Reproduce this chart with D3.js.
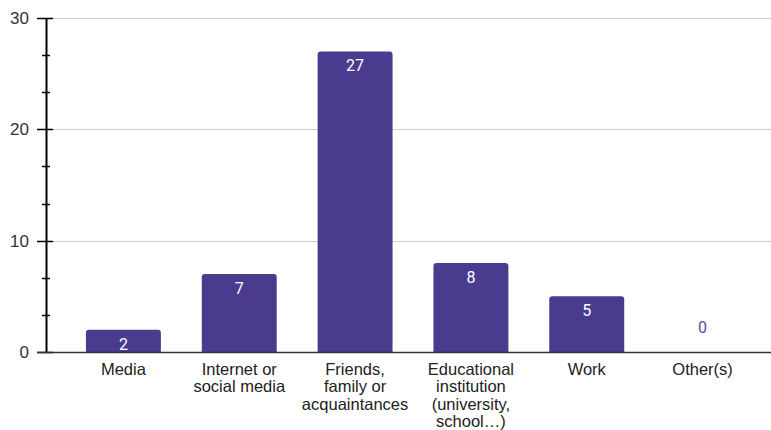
<!DOCTYPE html>
<html>
<head>
<meta charset="utf-8">
<script src="https://cdn.jsdelivr.net/npm/d3@7"></script>
<style>
  html, body { margin: 0; padding: 0; background: #fff; }
  svg { display: block; font-family: "Liberation Sans", Arial, sans-serif; }
</style>
</head>
<body>
<svg id="chart" width="771" height="430"></svg>
<script>
// Where respondents heard about it
const categories = [
  ["Media"],
  ["Internet or", "social media"],
  ["Friends,", "family or", "acquaintances"],
  ["Educational", "institution", "(university,", "school…)"],
  ["Work"],
  ["Other(s)"]
];
const counts = [2, 7, 27, 8, 5, 0];
const majorTicks = [0, 10, 20, 30];
const minorTicks = [10 / 3, 20 / 3, 40 / 3, 50 / 3, 70 / 3, 80 / 3];

const barColor = "#4a3b8f";
const svg = d3.select("#chart");

const axisX = 46;
const y = d3.scaleLinear().domain([0, 30]).range([352, 18]);
const x = d3.scaleBand()
  .domain(d3.range(counts.length))
  .range([65.5, 760.5])
  .paddingInner(0.353)
  .paddingOuter(0.1765);

// Gridlines
svg.append("g").selectAll("line")
  .data(majorTicks.filter(d => d > 0))
  .join("line")
  .attr("x1", axisX + 7).attr("x2", 771)
  .attr("y1", d => Math.round(y(d)) + 0.5).attr("y2", d => Math.round(y(d)) + 0.5)
  .attr("stroke", "#cccccc").attr("stroke-width", 1);

// Bars with rounded tops
const r = 3;
svg.append("g").selectAll("path")
  .data(counts.map((v, i) => ({ v, i })).filter(d => d.v > 0))
  .join("path")
  .attr("fill", barColor)
  .attr("d", d => {
    const x0 = x(d.i), w = x.bandwidth(), y0 = y(d.v), yb = y(0);
    return `M${x0},${yb}V${y0 + r}Q${x0},${y0} ${x0 + r},${y0}H${x0 + w - r}Q${x0 + w},${y0} ${x0 + w},${y0 + r}V${yb}Z`;
  });

// Value labels
svg.append("g").selectAll("text")
  .data(counts.map((v, i) => ({ v, i })))
  .join("text")
  .attr("x", d => x(d.i) + x.bandwidth() / 2)
  .attr("y", d => d.v > 0 ? y(d.v) + 20 : y(0) - 19)
  .attr("text-anchor", "middle")
  .attr("font-size", 16)
  .attr("font-family", "Roboto, sans-serif")
  .attr("fill", d => d.v > 0 ? "#ffffff" : "#5a4ba6")
  .text(d => d.v);

// Y axis line and ticks
const axis = svg.append("g").attr("stroke", "#000");
axis.append("line")
  .attr("x1", axisX + 0.5).attr("x2", axisX + 0.5)
  .attr("y1", y(30)).attr("y2", y(0) + 1)
  .attr("stroke-width", 2);
axis.selectAll(".major").data(majorTicks).join("line")
  .attr("class", "major")
  .attr("x1", axisX - 9).attr("x2", axisX + 7)
  .attr("y1", d => Math.round(y(d)) + 0.5).attr("y2", d => Math.round(y(d)) + 0.5)
  .attr("stroke-width", 1.5);
axis.selectAll(".minor").data(minorTicks).join("line")
  .attr("class", "minor")
  .attr("x1", axisX - 4).attr("x2", axisX + 4)
  .attr("y1", d => Math.round(y(d)) + 0.5).attr("y2", d => Math.round(y(d)) + 0.5)
  .attr("stroke-width", 1.5);

// Baseline
svg.append("line")
  .attr("x1", axisX - 9).attr("x2", 771)
  .attr("y1", Math.round(y(0)) + 0.5).attr("y2", Math.round(y(0)) + 0.5)
  .attr("stroke", "#333").attr("stroke-width", 1.5);

// Y tick labels
svg.append("g").selectAll("text")
  .data(majorTicks).join("text")
  .attr("x", 29)
  .attr("y", d => y(d) + 6)
  .attr("text-anchor", "end")
  .attr("font-size", 17)
  .attr("fill", "#333")
  .text(d => d);

// Category labels
const cat = svg.append("g").selectAll("text")
  .data(categories).join("text")
  .attr("text-anchor", "middle")
  .attr("font-size", 16.5)
  .attr("fill", "#222");
cat.selectAll("tspan")
  .data((d, i) => d.map(line => ({ line, i })))
  .join("tspan")
  .attr("x", d => x(d.i) + x.bandwidth() / 2)
  .attr("y", (d, j) => 375 + j * 17.3)
  .text(d => d.line);
</script>
</body>
</html>
